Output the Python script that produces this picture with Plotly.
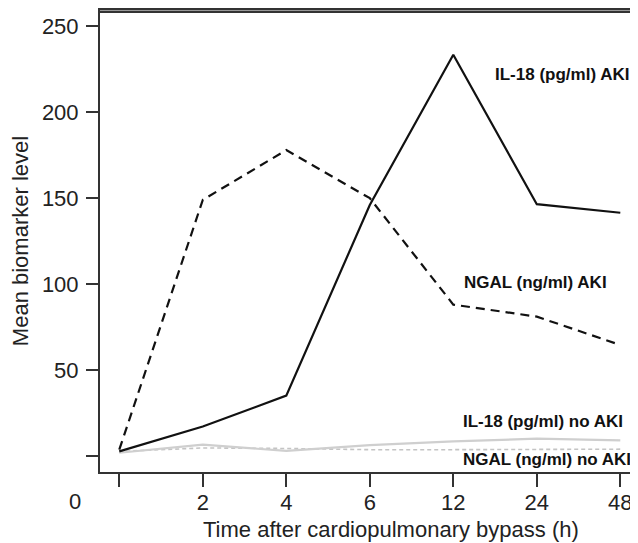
import plotly.graph_objects as go

time_labels = ["0", "2", "4", "6", "12", "24", "48"]
il18_aki = [2.5, 17, 35, 146, 233.5, 146.5, 141.5]
ngal_aki = [3.5, 149, 178, 150, 88, 81, 64.5]
il18_no_aki = [1.7, 6.4, 2.8, 6.2, 8.3, 9.9, 8.9]
ngal_no_aki = [2.5, 4.5, 4.2, 3.5, 3.5, 3.8, 3.8]

y_ticks = [0, 50, 100, 150, 200, 250]
y_ticktext = ["", "50", "100", "150", "200", "250"]
x_idx = list(range(len(time_labels)))
x_ticktext = [""] + time_labels[1:]

FONT = "Liberation Sans, Arial, Helvetica, sans-serif"

fig = go.Figure()
fig.add_trace(go.Scatter(x=x_idx, y=ngal_no_aki, mode="lines",
                         line=dict(color="#c4c4c4", width=1.6, dash="4px,3px"),
                         name="NGAL (ng/ml) no AKI"))
fig.add_trace(go.Scatter(x=x_idx, y=il18_no_aki, mode="lines",
                         line=dict(color="#cfcfcf", width=2.2),
                         name="IL-18 (pg/ml) no AKI"))
fig.add_trace(go.Scatter(x=x_idx, y=ngal_aki, mode="lines",
                         line=dict(color="#111111", width=2.2, dash="9px,6px"),
                         name="NGAL (ng/ml) AKI"))
fig.add_trace(go.Scatter(x=x_idx, y=il18_aki, mode="lines",
                         line=dict(color="#111111", width=2.2),
                         name="IL-18 (pg/ml) AKI"))

labels = [
    ("IL-18 (pg/ml) AKI", 4.475, 221.8),
    ("NGAL (ng/ml) AKI", 4.10, 100.7),
    ("IL-18 (pg/ml) no AKI", 4.09, 20),
    ("NGAL (ng/ml) no AKI", 4.09, -2.3),
]
annotations = []
for txt, xx, yy in labels:
    annotations.append(dict(x=xx, y=yy, xref="x", yref="y", text="<b>%s</b>" % txt,
                            showarrow=False, xanchor="left", yanchor="middle",
                            font=dict(family=FONT, size=17, color="#111111")))
annotations.append(dict(x=-0.0465, y=-0.0643, xref="paper", yref="paper", text="0",
                        showarrow=False, xanchor="center", yanchor="middle",
                        font=dict(family=FONT, size=22, color="#222222")))
annotations.append(dict(x=0.5418, y=-0.124, xref="paper", yref="paper",
                        text="Time after cardiopulmonary bypass (h)",
                        showarrow=False, xanchor="center", yanchor="middle",
                        font=dict(family=FONT, size=22, color="#222222")))

# page body keeps its default 8px margin, so the figure is offset by 8px
fig.update_layout(
    width=630, height=535,
    margin=dict(l=92, r=0, t=2, b=71),
    plot_bgcolor="white", paper_bgcolor="white",
    showlegend=False,
    font=dict(family=FONT, size=22, color="#222222"),
    annotations=annotations,
    shapes=[dict(type="line", xref="paper", yref="paper", x0=-0.002, x1=1,
                 y0=0.996, y1=0.996, line=dict(color="#333333", width=2.5),
                 layer="above")],
)
fig.update_xaxes(range=[-0.231, 6.212], tickmode="array", tickvals=x_idx,
                 ticktext=x_ticktext, showgrid=False, zeroline=False,
                 showline=True, linecolor="#333333", linewidth=2, mirror=True,
                 ticks="outside", ticklen=13, tickwidth=2, tickcolor="#333333",
                 ticklabelstandoff=-3,
                 tickfont=dict(family=FONT, size=22, color="#222222"))
fig.update_yaxes(range=[-9.5, 259.6], tickmode="array", tickvals=y_ticks,
                 ticktext=y_ticktext, showgrid=False, zeroline=False,
                 showline=True, linecolor="#333333", linewidth=2, mirror=False,
                 ticks="outside", ticklen=12, tickwidth=2, tickcolor="#333333",
                 ticklabelstandoff=3,
                 tickfont=dict(family=FONT, size=22, color="#222222"),
                 title=dict(text="Mean biomarker level", standoff=8,
                            font=dict(family=FONT, size=22, color="#222222")))

fig.write_html("out.html", config={"displayModeBar": False})
